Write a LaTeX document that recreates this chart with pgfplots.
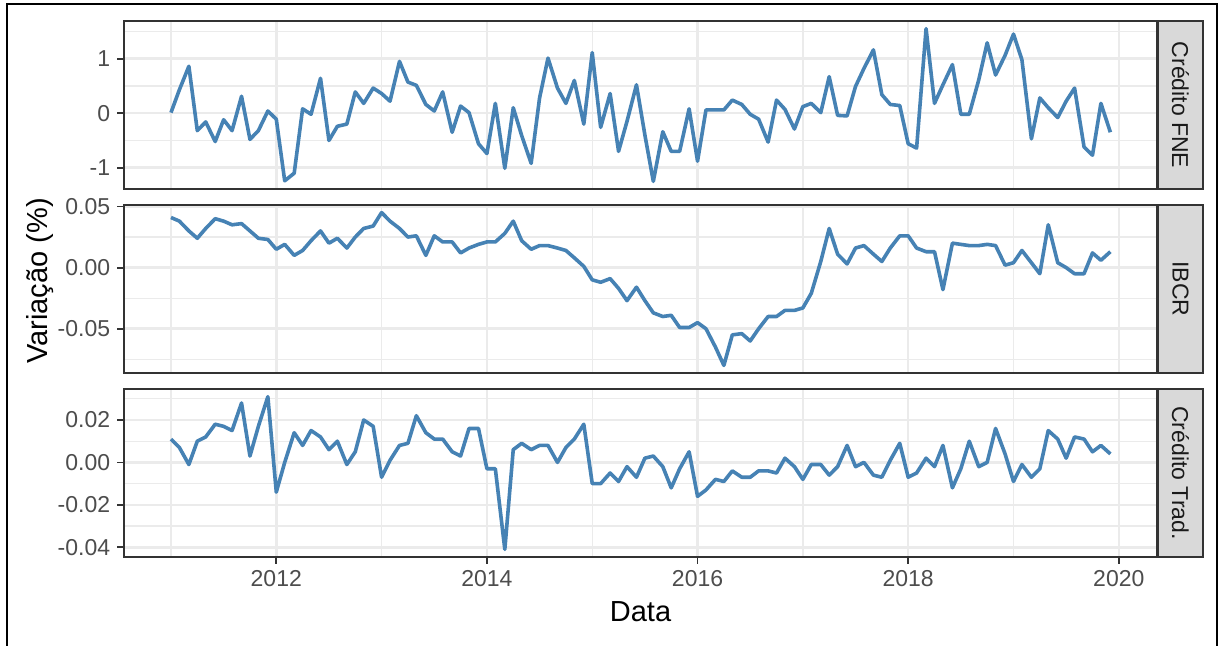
\documentclass[border=0pt]{standalone}
\usepackage{pgfplots}
\pgfplotsset{compat=1.18}
\usepackage{pgfplotstable}
\usepackage{fontspec}
\setmainfont{Liberation Sans}
\definecolor{grid92}{HTML}{EBEBEB}
\definecolor{grey20}{HTML}{333333}
\definecolor{grey30}{HTML}{4D4D4D}
\definecolor{grey85}{HTML}{D9D9D9}
\definecolor{grey10}{HTML}{1A1A1A}
\definecolor{steel}{HTML}{4682B4}

\pgfplotstableread{
x fne ibcr trad
2011.00 0.01 0.041 0.011
2011.08 0.43 0.038 0.007
2011.17 0.86 0.030 -0.001
2011.25 -0.32 0.024 0.010
2011.33 -0.16 0.032 0.012
2011.42 -0.52 0.040 0.018
2011.50 -0.12 0.038 0.017
2011.58 -0.32 0.035 0.015
2011.67 0.31 0.036 0.028
2011.75 -0.48 0.030 0.003
2011.83 -0.32 0.024 0.017
2011.92 0.04 0.023 0.031
2012.00 -0.11 0.015 -0.014
2012.08 -1.24 0.019 0.000
2012.17 -1.10 0.010 0.014
2012.25 0.08 0.014 0.008
2012.33 -0.02 0.022 0.015
2012.42 0.64 0.030 0.012
2012.50 -0.50 0.020 0.006
2012.58 -0.24 0.024 0.010
2012.67 -0.20 0.016 -0.001
2012.75 0.39 0.025 0.005
2012.83 0.18 0.032 0.020
2012.92 0.46 0.034 0.017
2013.00 0.36 0.045 -0.007
2013.08 0.22 0.038 0.001
2013.17 0.95 0.032 0.008
2013.25 0.57 0.025 0.009
2013.33 0.51 0.026 0.022
2013.42 0.16 0.010 0.014
2013.50 0.04 0.026 0.011
2013.58 0.39 0.021 0.011
2013.67 -0.35 0.021 0.005
2013.75 0.13 0.012 0.003
2013.83 0.01 0.016 0.016
2013.92 -0.56 0.019 0.016
2014.00 -0.74 0.021 -0.003
2014.08 0.18 0.021 -0.003
2014.17 -1.01 0.028 -0.041
2014.25 0.10 0.038 0.006
2014.33 -0.41 0.022 0.009
2014.42 -0.92 0.015 0.006
2014.50 0.28 0.018 0.008
2014.58 1.01 0.018 0.008
2014.67 0.46 0.016 0.000
2014.75 0.18 0.014 0.007
2014.83 0.60 0.008 0.011
2014.92 -0.20 0.001 0.018
2015.00 1.11 -0.010 -0.010
2015.08 -0.26 -0.012 -0.010
2015.17 0.36 -0.009 -0.005
2015.25 -0.70 -0.017 -0.009
2015.33 -0.15 -0.027 -0.002
2015.42 0.52 -0.016 -0.007
2015.50 -0.40 -0.027 0.002
2015.58 -1.25 -0.037 0.003
2015.67 -0.34 -0.040 -0.002
2015.75 -0.70 -0.039 -0.012
2015.83 -0.70 -0.049 -0.003
2015.92 0.08 -0.049 0.005
2016.00 -0.88 -0.045 -0.016
2016.08 0.06 -0.050 -0.013
2016.17 0.06 -0.065 -0.008
2016.25 0.06 -0.080 -0.009
2016.33 0.24 -0.055 -0.004
2016.42 0.16 -0.054 -0.007
2016.50 -0.02 -0.060 -0.007
2016.58 -0.11 -0.050 -0.004
2016.67 -0.53 -0.040 -0.004
2016.75 0.24 -0.040 -0.005
2016.83 0.07 -0.035 0.002
2016.92 -0.29 -0.035 -0.002
2017.00 0.12 -0.033 -0.008
2017.08 0.18 -0.021 -0.001
2017.17 0.01 0.005 -0.001
2017.25 0.67 0.032 -0.006
2017.33 -0.04 0.011 -0.002
2017.42 -0.05 0.003 0.008
2017.50 0.49 0.016 -0.002
2017.58 0.82 0.018 0.000
2017.67 1.16 0.011 -0.006
2017.75 0.34 0.005 -0.007
2017.83 0.16 0.016 0.001
2017.92 0.14 0.026 0.009
2018.00 -0.56 0.026 -0.007
2018.08 -0.64 0.016 -0.005
2018.17 1.55 0.013 0.002
2018.25 0.18 0.013 -0.002
2018.33 0.52 -0.018 0.008
2018.42 0.89 0.020 -0.012
2018.50 -0.02 0.019 -0.003
2018.58 -0.02 0.018 0.010
2018.67 0.61 0.018 -0.002
2018.75 1.29 0.019 0.000
2018.83 0.70 0.018 0.016
2018.92 1.06 0.002 0.004
2019.00 1.45 0.004 -0.009
2019.08 0.98 0.014 -0.001
2019.17 -0.47 0.004 -0.007
2019.25 0.28 -0.005 -0.003
2019.33 0.10 0.035 0.015
2019.42 -0.08 0.004 0.011
2019.50 0.22 0.000 0.002
2019.58 0.46 -0.005 0.012
2019.67 -0.62 -0.005 0.011
2019.75 -0.77 0.012 0.005
2019.83 0.18 0.006 0.008
2019.92 -0.35 0.013 0.004
}\datatab

\pgfplotsset{
  panel/.style={
    scale only axis, width=516.5pt, height=84pt,
    anchor=south west,
    xmin=2010.554, xmax=2020.363,
    scaled x ticks=false, scaled y ticks=false,
    axis line style={draw=grey20, line width=1.2pt},
    grid=both,
    major grid style={draw=grid92, line width=1.3pt},
    minor grid style={draw=grid92, line width=0.65pt},
    xtick={2012,2014,2016,2018,2020},
    minor xtick={2011,2013,2015,2017,2019},
    tick align=outside, tick pos=left,
    major tick length=3.4pt, minor tick length=0pt,
    tick style={draw=grey20, line width=0.9pt},
    minor tick style={draw=none},
    tick label style={font=\fontsize{11.5}{13}\selectfont, text=grey30},
  },
  noxlab/.style={xticklabels={}, every major x tick/.append style={draw=none}},
}

\begin{document}
\begin{tikzpicture}
\useasboundingbox (0,0) rectangle (609.5pt,322.5pt);
\fill[white] (0,0) rectangle (609.5pt,322.5pt);

% Panel 1: Credito FNE
\begin{axis}[panel, noxlab, at={(62pt,228pt)},
  ymin=-1.39, ymax=1.69,
  ytick={-1,0,1}, yticklabels={-1,0,1},
  minor ytick={-0.5,0.5,1.5}]
  \addplot[steel, line width=1.8pt, line join=round] table[x=x, y=fne] {\datatab};
\end{axis}

% Panel 2: IBCR
\begin{axis}[panel, noxlab, at={(62pt,136pt)},
  ymin=-0.0862, ymax=0.0512,
  ytick={-0.05,0,0.05}, yticklabels={-0.05,0.00,0.05},
  minor ytick={-0.075,-0.025,0.025}]
  \addplot[steel, line width=1.8pt, line join=round] table[x=x, y=ibcr] {\datatab};
\end{axis}

% Panel 3: Credito Trad.
\begin{axis}[panel, at={(62pt,44pt)},
  ymin=-0.0446, ymax=0.0346,
  ytick={-0.04,-0.02,0,0.02}, yticklabels={-0.04,-0.02,0.00,0.02},
  minor ytick={-0.03,-0.01,0.01,0.03},
  xticklabels={2012,2014,2016,2018,2020}]
  \addplot[steel, line width=1.8pt, line join=round] table[x=x, y=trad] {\datatab};
\end{axis}

% strips
\foreach \yb/\lab in {228/{Crédito FNE}, 136/{IBCR}, 44/{Crédito Trad.}}{
  \draw[fill=grey85, draw=grey20, line width=1.2pt] (579pt,\yb pt) rectangle (601.5pt,\yb pt+84pt);
  \node[rotate=-90, text=grey10, font=\fontsize{11.5}{13}\selectfont] at (590.25pt,\yb pt+42pt) {\lab};
}

% axis titles
\node[font=\fontsize{14.5}{17}\selectfont] at (320.25pt,16.5pt) {Data};
\node[rotate=90, font=\fontsize{14.5}{17}\selectfont] at (20pt,182pt) {Variação (\%)};

% outer frame
\draw[black, line width=1.1pt] (3.5pt,-10pt) -- (3.5pt,320.5pt) -- (608.5pt,320.5pt) -- (608.5pt,-10pt);
\end{tikzpicture}
\end{document}
